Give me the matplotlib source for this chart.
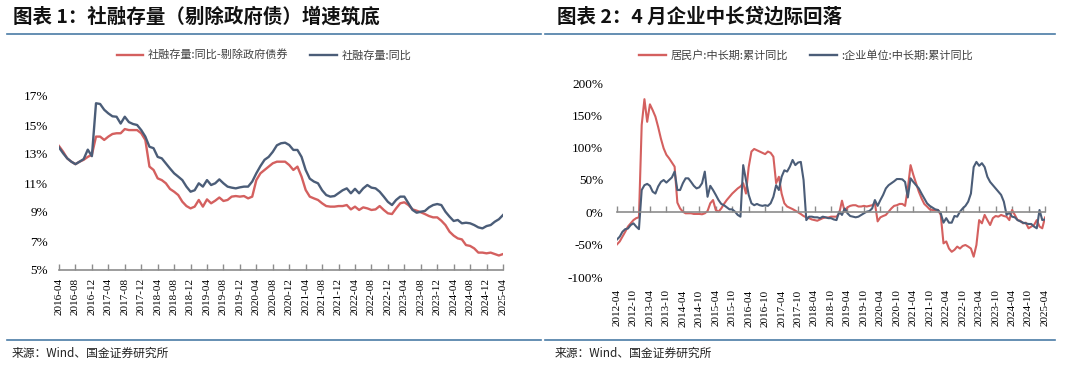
import matplotlib
matplotlib.use("Agg")
import matplotlib.pyplot as plt
from matplotlib.lines import Line2D
from matplotlib.ticker import FuncFormatter
import pandas as pd

plt.rcParams['font.family'] = ['Noto Sans CJK SC', 'DejaVu Sans']

# ---------------- data: chart 1 (monthly 2016-04 .. 2025-04) ----------------
months1 = pd.date_range("2016-04-01", "2025-04-01", freq="MS").strftime("%Y-%m").tolist()
tsf_ex_gov = [13.55, 13.16, 12.7, 12.47, 12.3, 12.47, 12.6, 12.8, 12.95, 14.2,
              14.2, 13.97, 14.2, 14.38, 14.43, 14.43, 14.72, 14.65, 14.65, 14.65,
              14.43, 13.97, 12.13, 11.9, 11.32, 11.2, 10.98, 10.59, 10.4, 10.17,
              9.71, 9.41, 9.25, 9.37, 9.83, 9.37, 9.87, 9.6, 9.78, 10.0,
              9.76, 9.83, 10.06, 10.1, 10.06, 10.1, 9.94, 10.06, 11.2, 11.67,
              11.9, 12.13, 12.36, 12.47, 12.47, 12.47, 12.24, 11.9, 12.13, 11.44,
              10.52, 10.06, 9.94, 9.83, 9.6, 9.41, 9.37, 9.37, 9.41, 9.41,
              9.48, 9.18, 9.37, 9.14, 9.32, 9.25, 9.14, 9.18, 9.41, 9.14,
              8.91, 8.86, 9.25, 9.6, 9.67, 9.48, 9.18, 9.09, 8.98, 8.86,
              8.72, 8.63, 8.63, 8.4, 8.1, 7.64, 7.37, 7.18, 7.11, 6.72,
              6.66, 6.49, 6.2, 6.2, 6.15, 6.2, 6.1, 6.0, 6.1]
tsf_total = [13.45, 13.05, 12.7, 12.47, 12.3, 12.47, 12.65, 13.3, 12.85, 16.5,
             16.45, 16.05, 15.8, 15.6, 15.57, 15.1, 15.57, 15.2, 15.07, 15.0,
             14.65, 14.2, 13.5, 13.4, 12.8, 12.7, 12.35, 12.0, 11.67, 11.44,
             11.2, 10.75, 10.4, 10.5, 10.98, 10.75, 11.2, 10.86, 10.98, 11.25,
             10.98, 10.75, 10.68, 10.63, 10.7, 10.75, 10.75, 11.1, 11.67, 12.17,
             12.6, 12.8, 13.15, 13.6, 13.74, 13.78, 13.62, 13.28, 13.28, 12.8,
             11.9, 11.3, 11.1, 10.98, 10.5, 10.17, 10.06, 10.1, 10.3, 10.5,
             10.63, 10.29, 10.6, 10.29, 10.63, 10.86, 10.68, 10.63, 10.4, 10.06,
             9.7, 9.48, 9.83, 10.06, 10.06, 9.6, 9.14, 8.95, 9.02, 9.07,
             9.32, 9.48, 9.55, 9.48, 9.02, 8.68, 8.38, 8.45, 8.22, 8.26,
             8.22, 8.1, 7.94, 7.87, 8.03, 8.1, 8.33, 8.5, 8.79]

# ---------------- data: chart 2 (monthly 2012-04 .. 2025-04) ----------------
months2 = pd.date_range("2012-04-01", "2025-04-01", freq="MS").strftime("%Y-%m").tolist()
household = [-49.5, -45, -37.6, -30, -22, -17, -12, -9, -7.7, 135,
             175, 140, 167, 158, 148, 132, 114, 99, 89, 83.5,
             77, 70.6, 15, 6, 1, -1.5, -1.5, -1.5, -2.5, -2.5,
             -2.5, -3, -1.5, 2, 14, 19, 3.6, 1, 6, 13,
             19, 24, 29, 33, 37, 40, 45, 29, 70, 94,
             98, 96, 94, 92, 90, 94, 92, 86, 45, 55,
             29, 14, 9, 7, 5, 2.6, 0, -2.6, -5.7, -7.7,
             -9, -11, -12, -13, -11, -9, -8, -8, -6.7, -6.7,
             -6.7, -1.5, 18, 1, 7.7, 10, 11, 11, 9, 9,
             10, 9, 10, 11, 14, -14, -7.7, -5.7, -4, 1,
             6, 10, 11, 13, 13, 10, 37, 73, 58, 45,
             32, 21.6, 13, 9, 4.6, 3.6, 3.6, 3.6, -4, -48,
             -45, -56, -61, -58, -53, -56, -52, -50.5, -53, -56,
             -68.6, -50.5, -12, -17, -4, -12, -19.6, -9, -5.7, -6.7,
             -4, -5.7, -6.7, -12, 3.6, -4, -12, -13, -17, -16,
             -24.7, -22, -19.6, -12, -22, -24.7, -8]
enterprise = [-42, -37.6, -30, -26, -25, -19.6, -17, -22, -26, 34.5,
              42, 44, 41, 32, 29, 40, 47, 50, 46, 50,
              54, 63, 34.5, 34.5, 45, 52.6, 52.6, 47, 41, 37,
              38.7, 45, 63, 24, 41, 34.5, 27, 19, 13, 11,
              7.7, 4.6, 4.6, 1, -4, -6.7, 73, 50, 27, 14,
              11, 13, 11, 10, 11, 10, 14, 24, 42, 34.5,
              55, 65, 63, 70.6, 81, 73, 77, 78, 50, -12,
              -6.7, -6.7, -7.7, -7.7, -9, -6.7, -7.7, -9, -9, -11,
              -12, 1, -4, 6, -1.5, -5.7, -6.7, -7.7, -6.7, -4,
              -1.5, 1, 2, 6, 19, 10, 19, 27, 37, 42,
              45, 48, 51.5, 51.5, 51, 47, 23, 52.6, 47, 42,
              37, 29, 21.6, 14, 10, 7.2, 4.6, 3.6, -1.5, -16,
              -9, -16, -16, -5.7, -6.7, 1, 6, 10, 16.5, 29,
              70, 78, 72, 76, 70, 55, 47, 42, 37, 32,
              27, 16.5, -4, -0.5, -6.7, -7.7, -12, -14, -16, -17,
              -18, -18, -22, -24.7, 3.6, -12, -11]

RED = "#D4605F"
BLUE = "#4B5D78"
AXC = "#8C8C8C"
RULE = "#4A7BA6"
SERIF = "Liberation Serif"

W, H = 1080, 368
fig = plt.figure(figsize=(W / 100, H / 100), dpi=100)


def fx(px):
    return px / W


def fy(py):
    return 1 - py / H


# ---------------- chart 1 ----------------
ax1 = fig.add_axes([fx(59), fy(270), fx(503) - fx(59), fy(96) - fy(270)])
x1 = list(range(len(months1)))
ax1.plot(x1, tsf_ex_gov, color=RED, lw=1.7, solid_joinstyle="round")
ax1.plot(x1, tsf_total, color=BLUE, lw=1.7, solid_joinstyle="round")
ax1.set_xlim(0, len(months1) - 1)
ax1.set_ylim(5, 17)
ax1.set_yticks([5, 7, 9, 11, 13, 15, 17])
ax1.yaxis.set_major_formatter(FuncFormatter(lambda v, p: f"{v:.0f}%"))
ax1.set_xticks(x1[::4])
ax1.set_xticklabels(months1[::4], rotation=90, fontfamily=SERIF, fontsize=8)
for s in ["left", "right", "top"]:
    ax1.spines[s].set_visible(False)
ax1.spines["bottom"].set_color(AXC)
ax1.spines["bottom"].set_linewidth(1.2)
ax1.tick_params(axis="x", direction="in", length=4, color=AXC, width=1, pad=6)
ax1.tick_params(axis="y", length=0, pad=8)
for t in ax1.get_yticklabels():
    t.set_fontfamily(SERIF)
    t.set_fontsize(9.5)
ax1.set_facecolor("none")

fig.legend(handles=[Line2D([], [], color=RED, lw=1.7), Line2D([], [], color=BLUE, lw=1.7)],
           labels=["社融存量:同比-剔除政府债券", "社融存量:同比"],
           loc="center", bbox_to_anchor=(fx(264), fy(55)), ncol=2, frameon=False,
           fontsize=8, handlelength=2.4, handletextpad=0.4, columnspacing=2.0,
           labelcolor="#404040")

# ---------------- chart 2 ----------------
ax2 = fig.add_axes([fx(617), fy(277), fx(1045) - fx(617), fy(83) - fy(277)])
x2 = list(range(len(months2)))
ax2.plot(x2, household, color=RED, lw=1.5, solid_joinstyle="round")
ax2.plot(x2, enterprise, color=BLUE, lw=1.5, solid_joinstyle="round")
ax2.set_xlim(0, len(months2) - 1)
ax2.set_ylim(-100, 200)
ax2.set_yticks([-100, -50, 0, 50, 100, 150, 200])
ax2.yaxis.set_major_formatter(FuncFormatter(lambda v, p: f"{v:.0f}%"))
for s in ["left", "right", "top"]:
    ax2.spines[s].set_visible(False)
ax2.spines["bottom"].set_position(("data", 0))
ax2.spines["bottom"].set_color(AXC)
ax2.spines["bottom"].set_linewidth(1.2)
ax2.set_xticks(x2[::6])
ax2.tick_params(axis="x", direction="in", length=4, color=AXC, width=1, labelbottom=False)
ax2.tick_params(axis="y", length=0, pad=10)
for t in ax2.get_yticklabels():
    t.set_fontfamily(SERIF)
    t.set_fontsize(9.5)
sec = ax2.secondary_xaxis(0.0)
sec.set_xticks(x2[::6])
sec.set_xticklabels(months2[::6], rotation=90, fontfamily=SERIF, fontsize=8)
sec.tick_params(length=0, pad=9)
sec.spines["bottom"].set_visible(False)
ax2.set_facecolor("none")

fig.legend(handles=[Line2D([], [], color=RED, lw=1.7), Line2D([], [], color=BLUE, lw=1.7)],
           labels=["居民户:中长期:累计同比", ":企业单位:中长期:累计同比"],
           loc="center", bbox_to_anchor=(fx(806), fy(55)), ncol=2, frameon=False,
           fontsize=8, handlelength=2.4, handletextpad=0.4, columnspacing=2.0,
           labelcolor="#404040")

# ---------------- titles, rules, sources ----------------
fig.text(fx(13), fy(17), "图表 1：社融存量（剔除政府债）增速筑底", fontsize=14,
         fontweight="bold", va="center", ha="left", color="#111111")
fig.text(fx(557), fy(17), "图表 2：4 月企业中长贷边际回落", fontsize=14,
         fontweight="bold", va="center", ha="left", color="#111111")
for (a, b) in [(7, 541), (545, 1055)]:
    fig.add_artist(Line2D([fx(a), fx(b)], [fy(34), fy(34)], color=RULE, lw=1.2))
    fig.add_artist(Line2D([fx(a), fx(b)], [fy(340), fy(340)], color=RULE, lw=1.2))
fig.text(fx(12), fy(353), "来源：Wind、国金证券研究所", fontsize=8.5, va="center",
         ha="left", color="#222222")
fig.text(fx(555), fy(353), "来源：Wind、国金证券研究所", fontsize=8.5, va="center",
         ha="left", color="#222222")

fig.savefig("out.png", dpi=100)
